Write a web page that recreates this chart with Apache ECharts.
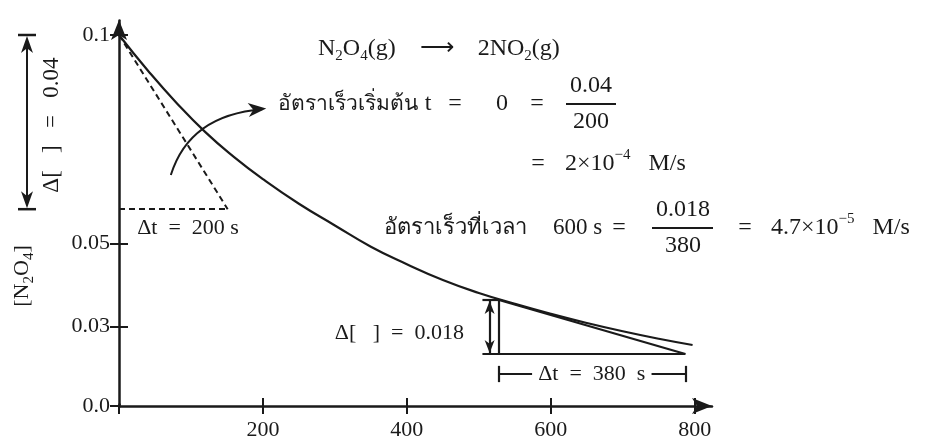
<!DOCTYPE html>
<html>
<head>
<meta charset="utf-8">
<script src="https://cdn.jsdelivr.net/npm/echarts@6.0.0/dist/echarts.min.js"></script>
<style>
html,body{margin:0;padding:0;background:#ffffff;}
#chart{width:925px;height:442px;}
</style>
</head>
<body>
<div id="chart"></div>
<script>
// ---------- data ----------
const timeS    = [0, 40, 80, 120, 160, 200, 250, 300, 350, 400, 450, 500, 550, 600, 650, 700, 750, 797];
const concN2O4 = [0.1000, 0.0915, 0.0837, 0.0767, 0.0707, 0.0654, 0.0595, 0.0543, 0.0492, 0.0450, 0.0412, 0.0381, 0.0355, 0.0331, 0.0309, 0.0289, 0.0271, 0.0256];
const xTickValues  = [0, 200, 400, 600, 800];
const xLabelValues = [200, 400, 600, 800];
const yTickValues  = [0, 0.03, 0.05, 0.1];
const yTickLabels  = ['0.0', '0.03', '0.05', '0.1'];
// tangent at t = 0 (dashed), [t, c]
const tangent0Start = [0, 0.1];
const tangent0End   = [151, 0.0582];
// tangent at t = 600 and its triangle
const tangent600Start = [528, 0.0364];
const tangent600End   = [787, 0.02345];
const triangleLeftT = 505;
const deltaArrowT   = 515;
// "Δt = 380 s" bracket
const bracketC = 0.01865;
const bracketTick = [0.0206, 0.0167];
const bracketGapT = [574, 740];
// curved pointer arrow (from tangent to text)
const pointerFrom = [72, 0.0664];
const pointerCtrl = [98, 0.0808];
const pointerTo   = [199, 0.0822];
// axis extents; y axis is broken (0 … 0.03 compressed, as in the figure)
const xMax = 824;
const yMax = 0.1036;
const yBreak = { start: 0.0005, end: 0.01147 };

// ---------- styling ----------
const INK = '#1a1a1a';
const FONT = "'Liberation Serif', 'Times New Roman', serif";

const chart = echarts.init(document.getElementById('chart'), null, { renderer: 'canvas' });

const xCommon = { type: 'value', min: 0, max: xMax, splitLine: { show: false } };
const yCommon = {
  type: 'value', min: 0, max: yMax, splitLine: { show: false },
  breaks: [{ start: yBreak.start, end: yBreak.end, gap: 0 }],
  breakArea: { show: false }
};
const yFmt = function (v) {
  for (let i = 0; i < yTickValues.length; i++) {
    if (Math.abs(v - yTickValues[i]) < 1e-7) return yTickLabels[i];
  }
  return '';
};

const solidSegs = [
  [tangent600Start, tangent600End],
  [[tangent600Start[0], tangent600Start[1]], [tangent600Start[0], tangent600End[1]]],
  [[triangleLeftT, tangent600Start[1]], [tangent600Start[0], tangent600Start[1]]],
  [[triangleLeftT, tangent600End[1]], [tangent600End[0], tangent600End[1]]],
  [[deltaArrowT, tangent600Start[1]], [deltaArrowT, tangent600End[1]]],
  [[tangent600Start[0], bracketC], [bracketGapT[0], bracketC]],
  [[bracketGapT[1], bracketC], [tangent600End[0], bracketC]],
  [[tangent600Start[0], bracketTick[0]], [tangent600Start[0], bracketTick[1]]],
  [[tangent600End[0], bracketTick[0]], [tangent600End[0], bracketTick[1]]]
];

const option = {
  animation: false,
  backgroundColor: '#ffffff',
  grid: { left: 119, right: 213, top: 20, bottom: 36, containLabel: false },
  xAxis: [
    Object.assign({}, xCommon, {
      position: 'bottom',
      axisLine: { show: true, onZero: false, symbol: ['none', 'arrow'], symbolSize: [12, 20], lineStyle: { color: INK, width: 2.5 } },
      axisTick: { show: true, inside: false, length: 8, customValues: xTickValues, lineStyle: { color: INK, width: 2 } },
      axisLabel: { show: true, customValues: xLabelValues, margin: 13, fontSize: 22, fontFamily: FONT, color: INK }
    }),
    Object.assign({}, xCommon, {
      position: 'bottom',
      axisLine: { show: false, onZero: false },
      axisTick: { show: true, inside: true, length: 8, customValues: xLabelValues, lineStyle: { color: INK, width: 2 } },
      axisLabel: { show: false }
    })
  ],
  yAxis: [
    Object.assign({}, yCommon, {
      position: 'left',
      axisLine: { show: true, onZero: false, symbol: ['none', 'arrow'], symbolSize: [12, 20], lineStyle: { color: INK, width: 2.5 } },
      axisTick: { show: true, inside: false, length: 9, customValues: yTickValues, lineStyle: { color: INK, width: 2 } },
      axisLabel: { show: true, customValues: yTickValues, formatter: yFmt, margin: 9, fontSize: 22, fontFamily: FONT, color: INK }
    }),
    Object.assign({}, yCommon, {
      position: 'left',
      axisLine: { show: false, onZero: false },
      axisTick: { show: true, inside: true, length: 9, customValues: yTickValues.slice(1), lineStyle: { color: INK, width: 2 } },
      axisLabel: { show: false }
    })
  ],
  series: [
    {
      type: 'line', name: '[N2O4]', xAxisIndex: 0, yAxisIndex: 0,
      data: timeS.map(function (t, i) { return [t, concN2O4[i]]; }),
      smooth: true, symbol: 'none', lineStyle: { color: INK, width: 2.2 }, z: 3
    },
    {
      type: 'lines', coordinateSystem: 'cartesian2d', xAxisIndex: 0, yAxisIndex: 0,
      symbol: 'none', lineStyle: { color: INK, width: 2, type: [6, 4], opacity: 1 },
      data: [
        { coords: [tangent0Start, tangent0End] },
        { coords: [[0, tangent0End[1]], tangent0End] }
      ], z: 4
    },
    {
      type: 'lines', coordinateSystem: 'cartesian2d', xAxisIndex: 0, yAxisIndex: 0,
      symbol: 'none', lineStyle: { color: INK, width: 2.2, type: 'solid', opacity: 1 },
      data: solidSegs.map(function (s) { return { coords: s }; }), z: 4
    }
  ]
};

chart.setOption(option);

const P = function (d) { return chart.convertToPixel({ xAxisIndex: 0, yAxisIndex: 0 }, d); };

function head(tip, from, len, hw) {
  const dx = tip[0] - from[0], dy = tip[1] - from[1];
  const L = Math.hypot(dx, dy) || 1;
  const ux = dx / L, uy = dy / L, px = -uy, py = ux;
  const bx = tip[0] - ux * len, by = tip[1] - uy * len;
  const nx = tip[0] - ux * len * 0.72, ny = tip[1] - uy * len * 0.72;
  return { type: 'polygon', silent: true, z: 30,
    shape: { points: [tip, [bx + px * hw, by + py * hw], [nx, ny], [bx - px * hw, by - py * hw]] },
    style: { fill: INK } };
}
function seg(x1, y1, x2, y2, w) {
  return { type: 'line', silent: true, z: 30, shape: { x1: x1, y1: y1, x2: x2, y2: y2 }, style: { stroke: INK, lineWidth: w || 2 } };
}
const RICH = {
  s: { fontSize: 15, fontFamily: FONT, fill: INK, padding: [14, 0, 0, 0] },
  p: { fontSize: 15, fontFamily: FONT, fill: INK, padding: [0, 0, 18, 0] }
};
function T(x, y, text, align, rot, size) {
  return { type: 'text', x: x, y: y, rotation: rot || 0, silent: true, z: 30,
    style: { text: text, fill: INK, fontSize: size || 22, fontFamily: FONT,
      align: align || 'left', textAlign: align || 'left', verticalAlign: 'middle', textVerticalAlign: 'middle', rich: RICH } };
}

const g = [];
// left double arrow  Δ[ ] = 0.04
const yTop = P(tangent0Start)[1], yBot = P(tangent0End)[1];
const ax = 27;
g.push(seg(ax, yTop + 6, ax, yBot - 6, 2));
g.push(seg(ax - 9, yTop, ax + 9, yTop, 2.5));
g.push(seg(ax - 9, yBot, ax + 9, yBot, 2.5));
g.push(head([ax, yTop + 1], [ax, yTop + 30], 17, 6));
g.push(head([ax, yBot - 1], [ax, yBot - 30], 17, 6));
g.push(T(52, (yTop + yBot) / 2 + 3, 'Δ[   ]   =   0.04', 'center', Math.PI / 2, 23));
// y-axis name
g.push(T(22, 276, '[N{s|2}O{s|4}]', 'center', Math.PI / 2));

// vertical double arrow at t≈515
const va = P([deltaArrowT, tangent600Start[1]]), vb = P([deltaArrowT, tangent600End[1]]);
g.push(head([va[0], va[1] + 1], [va[0], va[1] + 20], 13, 5));
g.push(head([vb[0], vb[1] - 1], [vb[0], vb[1] - 20], 13, 5));

// curved pointer arrow
const c0 = P(pointerFrom), c1 = P(pointerCtrl), c2 = P(pointerTo);
g.push({ type: 'bezierCurve', silent: true, z: 30,
  shape: { x1: c0[0], y1: c0[1], cpx1: c1[0], cpy1: c1[1], x2: c2[0], y2: c2[1] },
  style: { stroke: INK, lineWidth: 2, fill: null } });
g.push(head([c2[0] + 4, c2[1] - 0.6], c1, 18, 7));

// texts
g.push(T(318, 49, 'N{s|2}O{s|4}(g)    ⟶    2NO{s|2}(g)', 'left', 0, 24));
g.push(T(278, 104, 'อัตราเร็วเริ่มต้น', 'left', 0, 21));
g.push(T(428, 104, 't', 'center', 0, 24));
g.push(T(455, 104, '=', 'center', 0, 24));
g.push(T(502, 104, '0', 'center', 0, 24));
g.push(T(537, 104, '=', 'center', 0, 24));
g.push(T(591, 86, '0.04', 'center', 0, 24));
g.push(seg(566, 104, 616, 104, 2.2));
g.push(T(591, 122, '200', 'center', 0, 24));

g.push(T(538, 164, '=', 'center', 0, 24));
g.push(T(565, 164, '2×10{p|−4}   M/s', 'left', 0, 24));

g.push(T(384, 228, 'อัตราเร็วที่เวลา', 'left', 0, 22));
g.push(T(553, 228, '600 s', 'left', 0, 23));
g.push(T(619, 228, '=', 'center', 0, 24));
g.push(T(683, 210, '0.018', 'center', 0, 24));
g.push(seg(652, 228, 713, 228, 2.2));
g.push(T(683, 246, '380', 'center', 0, 24));
g.push(T(745, 228, '=', 'center', 0, 24));
g.push(T(771, 228, '4.7×10{p|−5}   M/s', 'left', 0, 24));

g.push(T(188, 228, 'Δt  =  200 s', 'center'));
g.push(T(464, 333, 'Δ[   ]  =  0.018', 'right'));
const bl = P([bracketGapT[0], bracketC]), br = P([bracketGapT[1], bracketC]);
g.push(T((bl[0] + br[0]) / 2, bl[1], 'Δt  =  380  s', 'center'));

chart.setOption({ graphic: { elements: g } });
</script>
</body>
</html>
